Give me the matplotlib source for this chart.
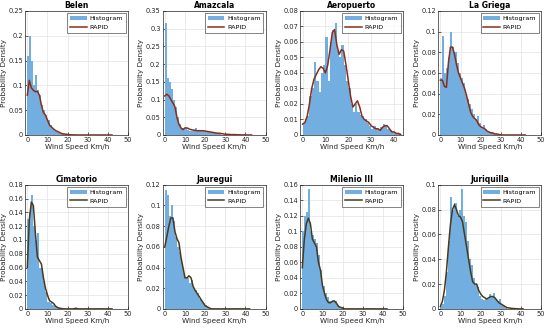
import matplotlib
matplotlib.use("Agg")
import matplotlib.pyplot as plt
from matplotlib.ticker import FuncFormatter

titles = ["Belen", "Amazcala", "Aeropuerto", "La Griega",
          "Cimatorio", "Jauregui", "Milenio III", "Juriquilla"]

# histogram densities, bins of 1 km/h starting at 0
hist_belen = [0.16, 0.20, 0.15, 0.10, 0.12, 0.09, 0.08, 0.06, 0.05, 0.04, 0.03, 0.02,
              0.012, 0.008, 0.005, 0.003, 0.002, 0.001, 0.001, 0.001]
hist_amazcala = [0.315, 0.16, 0.15, 0.13, 0.10, 0.08, 0.05, 0.03, 0.02, 0.02, 0.02, 0.015,
                 0.012, 0.012, 0.015, 0.02, 0.012, 0.01, 0.012, 0.01, 0.01, 0.008, 0.008,
                 0.006, 0.006, 0.005, 0.004, 0.003]
hist_aeropuerto = [0.008, 0.010, 0.012, 0.025, 0.030, 0.047, 0.035, 0.028, 0.040, 0.045,
                   0.063, 0.035, 0.060, 0.068, 0.072, 0.055, 0.050, 0.058, 0.045, 0.035,
                   0.030, 0.020, 0.015, 0.020, 0.015, 0.013, 0.012, 0.010, 0.008, 0.006,
                   0.004, 0.006, 0.004, 0.003, 0.005, 0.007, 0.006, 0.004, 0.003, 0.002,
                   0.002, 0.001, 0.001]
hist_griega = [0.055, 0.096, 0.06, 0.065, 0.075, 0.10, 0.085, 0.08, 0.07, 0.06, 0.055, 0.05,
               0.04, 0.035, 0.03, 0.025, 0.02, 0.015, 0.018, 0.012, 0.008, 0.010, 0.006,
               0.004, 0.003, 0.003, 0.002, 0.001]
hist_cimatorio = [0.13, 0.14, 0.165, 0.12, 0.10, 0.11, 0.06, 0.06, 0.04, 0.025, 0.01, 0.008,
                  0.006, 0.004, 0.003, 0.002]
hist_jauregui = [0.115, 0.11, 0.09, 0.10, 0.085, 0.07, 0.06, 0.055, 0.045, 0.035, 0.03, 0.03,
                 0.025, 0.028, 0.02, 0.018, 0.015, 0.01, 0.008, 0.006, 0.004, 0.002]
hist_milenio = [0.10, 0.12, 0.125, 0.155, 0.10, 0.095, 0.09, 0.085, 0.07, 0.05, 0.03, 0.02,
                0.015, 0.01, 0.01, 0.012, 0.01, 0.005, 0.003, 0.002]
hist_juriquilla = [0.002, 0.004, 0.01, 0.03, 0.055, 0.09, 0.08, 0.085, 0.075, 0.08, 0.097,
                   0.075, 0.07, 0.055, 0.04, 0.035, 0.025, 0.02, 0.018, 0.01, 0.008, 0.007,
                   0.008, 0.008, 0.012, 0.01, 0.013, 0.008, 0.006, 0.008, 0.003, 0.002, 0.001]

# RAPID density curves, values at wind speeds 0, 1, 2, ... km/h
rapid_belen = [0.08, 0.11, 0.095, 0.09, 0.087, 0.088, 0.08, 0.06, 0.045, 0.04, 0.03, 0.02,
               0.016, 0.012, 0.009, 0.007, 0.005, 0.003, 0.002, 0.0015, 0.001, 0.0005,
               0.0003, 0.0002, 0.0001, 0, 0, 0, 0, 0, 0, 0, 0, 0, 0, 0, 0, 0, 0, 0, 0, 0, 0]
rapid_amazcala = [0.11, 0.115, 0.11, 0.10, 0.09, 0.08, 0.05, 0.03, 0.02, 0.015, 0.02, 0.02,
                  0.017, 0.015, 0.014, 0.013, 0.012, 0.012, 0.012, 0.012, 0.011, 0.01, 0.009,
                  0.008, 0.007, 0.006, 0.005, 0.005, 0.004, 0.003, 0.002, 0.002, 0.0015,
                  0.001, 0.001, 0.001, 0.0005, 0.0005, 0.0003, 0.0002, 0, 0, 0, 0]
rapid_aeropuerto = [0.007, 0.008, 0.012, 0.02, 0.03, 0.036, 0.039, 0.042, 0.044, 0.043, 0.04,
                    0.045, 0.055, 0.066, 0.068, 0.058, 0.052, 0.055, 0.054, 0.045, 0.035,
                    0.025, 0.018, 0.02, 0.022, 0.018, 0.012, 0.01, 0.009, 0.008, 0.006,
                    0.005, 0.004, 0.004, 0.003, 0.005, 0.006, 0.006, 0.004, 0.002, 0.002,
                    0.001, 0.001, 0.0]
rapid_griega = [0.053, 0.053, 0.047, 0.046, 0.07, 0.085, 0.085, 0.078, 0.068, 0.06, 0.055,
                0.05, 0.045, 0.038, 0.03, 0.022, 0.018, 0.016, 0.014, 0.01, 0.008, 0.007,
                0.006, 0.004, 0.003, 0.002, 0.002, 0.001, 0.001, 0.0005, 0, 0, 0, 0, 0, 0,
                0, 0, 0, 0, 0, 0, 0]
rapid_cimatorio = [0.06, 0.13, 0.155, 0.15, 0.11, 0.075, 0.07, 0.065, 0.045, 0.03, 0.02,
                   0.012, 0.01, 0.008, 0.004, 0.002, 0.001, 0.0005, 0, 0, 0, 0, 0, 0, 0.001,
                   0, 0, 0, 0, 0, 0, 0, 0, 0, 0, 0, 0, 0, 0, 0, 0, 0, 0]
rapid_jauregui = [0.06, 0.07, 0.08, 0.088, 0.088, 0.075, 0.068, 0.064, 0.05, 0.04, 0.03, 0.03,
                  0.032, 0.03, 0.022, 0.018, 0.015, 0.012, 0.009, 0.006, 0.003, 0.002, 0.001,
                  0, 0, 0, 0, 0, 0, 0, 0, 0, 0, 0, 0, 0, 0, 0, 0, 0, 0, 0, 0]
rapid_milenio = [0.053, 0.09, 0.11, 0.117, 0.11, 0.09, 0.085, 0.08, 0.06, 0.05, 0.03, 0.02,
                 0.012, 0.008, 0.008, 0.01, 0.01, 0.007, 0.003, 0.002, 0.001, 0, 0, 0, 0, 0,
                 0, 0, 0, 0, 0, 0, 0, 0, 0, 0, 0, 0, 0, 0, 0, 0, 0]
rapid_juriquilla = [0.002, 0.006, 0.015, 0.03, 0.05, 0.068, 0.08, 0.084, 0.08, 0.075, 0.074,
                    0.07, 0.06, 0.05, 0.04, 0.03, 0.022, 0.02, 0.02, 0.015, 0.012, 0.01, 0.009,
                    0.008, 0.009, 0.01, 0.01, 0.009, 0.007, 0.005, 0.004, 0.003, 0.002, 0.001,
                    0.0008, 0.0005, 0.0003, 0.0002, 0.0001, 0, 0, 0]

hists = [hist_belen, hist_amazcala, hist_aeropuerto, hist_griega,
         hist_cimatorio, hist_jauregui, hist_milenio, hist_juriquilla]
rapids = [rapid_belen, rapid_amazcala, rapid_aeropuerto, rapid_griega,
          rapid_cimatorio, rapid_jauregui, rapid_milenio, rapid_juriquilla]
ymax = [0.25, 0.35, 0.08, 0.12, 0.18, 0.12, 0.16, 0.10]
ystep = [0.05, 0.05, 0.01, 0.02, 0.02, 0.02, 0.02, 0.02]
xmax = [50, 50, 44, 50, 50, 50, 50, 50]
xticks_list = [[0, 10, 20, 30, 40, 50]] * 2 + [[0, 10, 20, 30, 40]] + [[0, 10, 20, 30, 40, 50]] * 5

fig = plt.figure(figsize=(5.5, 3.3), dpi=100)
lefts = [0.046, 0.296, 0.546, 0.797]
bottoms = [0.591, 0.064]
w, h = 0.187, 0.376
hist_color = "#72aee0"
line_colors = ["#8a2e1c", "#4a3a1c"]
fs = 4.8

def fmt(v, pos):
    return "%g" % round(v, 4)

for i in range(8):
    r, c = divmod(i, 4)
    ax = fig.add_axes([lefts[c], bottoms[r], w, h])
    hv = hists[i]
    edges = list(range(len(hv) + 1))
    bars = ax.bar(edges[:-1], hv, width=1.0, align="edge", color=hist_color,
                  edgecolor="none", zorder=2)
    rv = rapids[i]
    ln, = ax.plot(list(range(len(rv))), rv, color=line_colors[r], lw=1.1, zorder=3)
    ax.set_xlim(-1, xmax[i])
    ax.set_ylim(0, ymax[i])
    ax.set_xticks(xticks_list[i])
    n = int(round(ymax[i] / ystep[i]))
    ax.set_yticks([k * ystep[i] for k in range(n + 1)])
    ax.yaxis.set_major_formatter(FuncFormatter(fmt))
    ax.grid(True, color="#e3e3e3", lw=0.5, zorder=0)
    ax.set_axisbelow(True)
    for s in ax.spines.values():
        s.set_color("#262626")
        s.set_linewidth(0.5)
    ax.tick_params(direction="in", length=2, width=0.5, labelsize=fs,
                   colors="#262626", pad=1.5)
    ax.set_title(titles[i], fontsize=5.5, fontweight="bold", pad=2)
    ax.set_xlabel("Wind Speed Km/h", fontsize=5.2, labelpad=1, color="#262626")
    ax.set_ylabel("Probability Density", fontsize=5.2, labelpad=1, color="#262626")
    leg = ax.legend([bars, ln], ["Histogram", "RAPID"], loc="upper right",
                    fontsize=4.6, frameon=True, fancybox=False,
                    borderpad=0.45, handlelength=2.6, handletextpad=0.4,
                    labelspacing=0.45, borderaxespad=0.35)
    leg.get_frame().set_edgecolor("#262626")
    leg.get_frame().set_linewidth(0.5)

fig.savefig("out.png", dpi=100)
